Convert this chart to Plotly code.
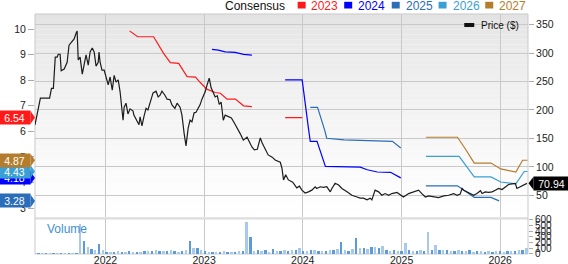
import plotly.graph_objects as go
import pandas as pd

# ---------------- data ----------------
price_dates = [
    "2021-04-15", "2021-05-05", "2021-06-08", "2021-06-15", "2021-06-22", "2021-06-29", "2021-07-06", "2021-07-10",
    "2021-07-17", "2021-07-21", "2021-08-01", "2021-08-12", "2021-08-19", "2021-08-27", "2021-09-07", "2021-09-14",
    "2021-09-18", "2021-09-22", "2021-09-29", "2021-10-07", "2021-10-18", "2021-10-21", "2021-10-29", "2021-11-05",
    "2021-11-13", "2021-11-20", "2021-11-27", "2021-12-05", "2021-12-08", "2021-12-12", "2021-12-19", "2021-12-27",
    "2021-12-30",
    "2022-01-07", "2022-01-11", "2022-01-18", "2022-01-26", "2022-02-02", "2022-02-09", "2022-02-17", "2022-02-24",
    "2022-03-07", "2022-03-11", "2022-03-18", "2022-03-25", "2022-04-02", "2022-04-13", "2022-04-16", "2022-04-27",
    "2022-05-05", "2022-05-09", "2022-05-16", "2022-05-23", "2022-05-31", "2022-06-07", "2022-06-15", "2022-06-26",
    "2022-07-07", "2022-07-15", "2022-07-22", "2022-07-29", "2022-08-09", "2022-08-17", "2022-08-28", "2022-09-04",
    "2022-09-15", "2022-09-23", "2022-10-04", "2022-10-11", "2022-10-19", "2022-10-26", "2022-11-03", "2022-11-10",
    "2022-11-17", "2022-11-25", "2022-12-02", "2022-12-10", "2022-12-17", "2022-12-24",
    "2023-01-05", "2023-01-12", "2023-01-20", "2023-01-27", "2023-02-04", "2023-02-11", "2023-02-19", "2023-02-26",
    "2023-03-05", "2023-03-09", "2023-03-13", "2023-03-20", "2023-03-31", "2023-04-12", "2023-04-23", "2023-05-04",
    "2023-05-15", "2023-05-26", "2023-06-09", "2023-06-27", "2023-07-06", "2023-07-17", "2023-07-28", "2023-08-04",
    "2023-08-15", "2023-08-26", "2023-09-10", "2023-09-21", "2023-10-10", "2023-10-16", "2023-10-22", "2023-10-30",
    "2023-11-09", "2023-11-25", "2023-12-10", "2023-12-20", "2023-12-29",
    "2024-01-10", "2024-01-22", "2024-02-04", "2024-02-16", "2024-02-22", "2024-03-06", "2024-03-18", "2024-03-30",
    "2024-04-12", "2024-04-18", "2024-04-30", "2024-05-13", "2024-05-25", "2024-06-13", "2024-07-01", "2024-07-20",
    "2024-08-01", "2024-08-13", "2024-08-26", "2024-09-07", "2024-09-13", "2024-09-25", "2024-10-08", "2024-10-20",
    "2024-11-01", "2024-11-14", "2024-11-26", "2024-12-15", "2024-12-27",
    "2025-01-08", "2025-01-27", "2025-02-14", "2025-03-05", "2025-03-17", "2025-03-30", "2025-04-11", "2025-04-30",
    "2025-05-18", "2025-06-06", "2025-06-24", "2025-07-13", "2025-07-25", "2025-08-06", "2025-08-13", "2025-08-19",
    "2025-08-31", "2025-09-13", "2025-09-25", "2025-10-07", "2025-10-20", "2025-10-26", "2025-11-07", "2025-11-19",
    "2025-12-02", "2025-12-14", "2025-12-26",
    "2026-01-08", "2026-01-20", "2026-02-01", "2026-02-14", "2026-02-26", "2026-03-04", "2026-03-17", "2026-03-29",
    "2026-04-10",
]
price_vals = [
    174, 221, 221, 238, 238, 293, 293, 298, 298, 269, 272, 284, 314, 319, 325, 335, 339, 288, 293, 263,
    288, 297, 279, 302, 309, 302, 277, 284, 302, 284, 270, 270, 265,
    247, 244, 258, 235, 261, 249, 253, 232, 182, 205, 212, 193, 202, 198, 191, 182, 174, 188, 172, 188,
    203, 200, 214, 230, 233, 223, 226, 233, 226, 219, 218, 209, 203, 212, 205, 191, 159, 137, 168, 182,
    179, 195, 196, 203, 209, 219,
    232, 244, 256, 239, 230, 223, 225, 210, 214, 200, 182, 191, 189, 186, 177, 168, 158, 147, 152, 135,
    130, 131, 151, 142, 130, 121, 117, 112, 108, 98, 77, 86, 77, 73, 63, 66, 59,
    54, 56, 59, 65, 62, 65, 64, 65, 56, 62, 71, 68, 62, 56, 50, 47, 45, 45, 42, 45, 42, 59, 56, 50,
    53, 50, 53, 55, 51,
    47, 53, 56, 59, 53, 47, 49, 47, 46, 49, 50, 53, 50, 52, 62, 59, 56, 53, 50, 53, 58, 53, 56, 55,
    56, 59, 62,
    60, 65, 69, 70, 71, 62, 65, 69, 70.94,
]

eps23_dates = ["2022-03-31", "2022-04-30", "2022-06-28", "2022-08-04", "2022-08-29", "2022-09-29", "2022-10-30",
               "2022-11-30", "2022-12-18", "2023-01-11", "2023-02-11", "2023-03-02", "2023-03-27", "2023-04-27",
               "2023-05-27", "2023-06-27", "2023-08-15", "2023-10-28", "2023-12-30"]
eps23_vals = [9.93, 9.70, 9.70, 9.05, 8.69, 8.66, 8.14, 8.12, 7.91, 7.65, 7.52, 7.49, 7.26, 7.26,
              7.00, 6.97, None, 6.54, 6.54]

eps24_dates = ["2023-01-30", "2023-02-23", "2023-03-20", "2023-04-26", "2023-05-27", "2023-06-27", "2023-08-15",
               "2023-10-28", "2023-12-30", "2024-01-23", "2024-01-29", "2024-02-23", "2024-03-25", "2024-08-01",
               "2024-08-27", "2024-10-03", "2024-11-21", "2024-12-29"]
eps24_vals = [9.21, 9.18, 9.11, 9.09, 9.01, 8.98, None, 8.01, 8.01, 6.06, 5.61, 5.61, 4.63, 4.60,
              4.50, 4.41, 4.40, 4.18]

eps25_dates = ["2024-01-29", "2024-02-25", "2024-03-22", "2024-03-30", "2024-06-02", "2024-10-03", "2024-11-28",
               "2024-12-29", "2025-02-15", "2025-04-01", "2025-07-27", "2025-09-27", "2025-11-28", "2025-12-28"]
eps25_vals = [6.94, 6.94, 6.06, 5.73, 5.67, 5.64, 5.61, 5.35, None, 3.87, 3.87, 3.42, 3.42, 3.28]

eps26_dates = ["2025-04-01", "2025-08-02", "2025-09-27", "2025-11-28", "2026-01-03", "2026-02-28", "2026-03-31",
               "2026-04-12"]
eps26_vals = [5.02, 5.02, 4.22, 4.22, 4.02, 3.95, 4.43, 4.43]

eps27_dates = ["2025-04-01", "2025-07-27", "2025-08-27", "2025-09-27", "2025-11-28", "2026-01-03", "2026-02-28",
               "2026-03-25", "2026-04-12"]
eps27_vals = [5.77, 5.77, 5.28, 4.76, 4.76, 4.53, 4.41, 4.87, 4.87]

volume_start = "2021-04-15"
volume_vals = [
    2, 2, 3, 2, 5, 3, 3, 5, 4, 5, 4, 5, 510, 220, 120, 80, 60, 160, 60, 30,
    25, 30, 45, 30, 35, 40, 25, 35, 30, 40, 45, 50, 55, 50, 45, 40, 60, 40, 30, 40,
    60, 215, 100, 90, 60, 40, 30, 25, 25, 30, 45, 30, 25, 30, 45, 40, 550, 290, 45, 55,
    40, 60, 35, 80, 50, 45, 60, 45, 70, 65, 90, 50, 45, 60, 55, 50, 45, 40, 60, 70,
    80, 200, 60, 50, 80, 270, 90, 100, 85, 110, 120, 100, 130, 60, 50, 55, 45, 50, 180, 60,
    50, 45, 60, 50, 380, 60, 150, 70, 60, 55, 45, 50, 60, 45, 40, 70, 35, 40, 45, 35,
    40, 35, 45, 40, 35, 40, 45, 50, 55, 60, 90,
]

year_ticks = ["2022-01-01", "2023-01-01", "2024-01-01", "2025-01-01", "2026-01-01"]
year_labels = ["2022", "2023", "2024", "2025", "2026"]
eps_ticks = [3, 4, 5, 6, 7, 8, 9, 10]
price_ticks = [50, 100, 150, 200, 250, 300, 350]
vol_ticks = [0, 100, 200, 300, 400, 500, 600]
x_range = ["2021-04-15", "2026-04-14"]

C23, C24, C25, C26, C27 = "#ff1a1a", "#0000ff", "#2a6db8", "#3a9fd3", "#b47d2c"
GRID = "#c9c9c9"
FONT = "Liberation Sans, Arial, sans-serif"

# ---------------- figure ----------------
fig = go.Figure()

series = [(eps23_dates, eps23_vals, C23), (eps24_dates, eps24_vals, C24), (eps25_dates, eps25_vals, C25),
          (eps26_dates, eps26_vals, C26), (eps27_dates, eps27_vals, C27)]
for d, v, c in series:
    fig.add_trace(go.Scatter(x=d, y=v, mode="lines", line=dict(color=c, width=1.2),
                             connectgaps=False, xaxis="x", yaxis="y", hoverinfo="skip"))

fig.add_trace(go.Scatter(x=price_dates, y=price_vals, mode="lines",
                         line=dict(color="#1c1c1c", width=1.2), xaxis="x", yaxis="y2", hoverinfo="skip"))

vol_dates = pd.date_range(volume_start, periods=len(volume_vals), freq="14D")
bar_colors = ["#a7c9ea" if i % 2 == 0 else "#5d9bd6" for i in range(len(volume_vals))]
fig.add_trace(go.Bar(x=vol_dates, y=volume_vals, marker=dict(color=bar_colors, line=dict(width=0)),
                     width=14 * 86400000 * 0.5, xaxis="x2", yaxis="y3", hoverinfo="skip"))

shapes = []
# background gradient of the main panel
main_bottom = 0.153
N = 40
for i in range(N):
    t = i / (N - 1)
    g = int(round(227 + 28 * t ** 0.75))
    y_top = 1 - (1 - main_bottom) * i / N
    y_bot = 1 - (1 - main_bottom) * (i + 1) / N
    shapes.append(dict(type="rect", xref="paper", yref="paper", x0=0, x1=1, y0=y_bot, y1=y_top,
                       fillcolor=f"rgb({g},{g},{g})", line=dict(width=0), layer="below"))
# separator band and frame
shapes.append(dict(type="rect", xref="paper", yref="paper", x0=0, x1=1, y0=0.1438, y1=main_bottom,
                   fillcolor="#dddddd", line=dict(width=0), layer="below"))
shapes.append(dict(type="rect", xref="paper", yref="paper", x0=0, x1=1, y0=0, y1=1,
                   fillcolor="rgba(0,0,0,0)", line=dict(color=GRID, width=1), layer="below"))

annotations = []
# top legend
annotations.append(dict(x=0.3816, y=1.0354, xref="paper", yref="paper", xanchor="left", yanchor="middle",
                        text="Consensus", showarrow=False, font=dict(size=12, color="#111", family=FONT)))
legend_items = [("2023", C23, 0.5328, 0.5567), ("2024", C24, 0.6272, 0.6509), ("2025", C25, 0.7236, 0.7489),
                ("2026", C26, 0.8186, 0.8437), ("2027", C27, 0.9133, 0.9371)]
for txt, c, sx, tx in legend_items:
    shapes.append(dict(type="rect", xref="paper", yref="paper", x0=sx, x1=sx + 0.0162, y0=1.0229, y1=1.0508,
                       fillcolor=c, line=dict(width=0)))
    annotations.append(dict(x=tx, y=1.0354, xref="paper", yref="paper", xanchor="left", yanchor="middle",
                            text=txt, showarrow=False, font=dict(size=12, color=c, family=FONT)))

# price legend inside plot
shapes.append(dict(type="rect", xref="paper", yref="paper", x0=0.8707, x1=0.891, y0=0.9458, y1=0.9625,
                   fillcolor="#111", line=dict(width=0)))
annotations.append(dict(x=0.9011, y=0.954, xref="paper", yref="paper", xanchor="left", yanchor="middle",
                        text="Price ($)", showarrow=False, font=dict(size=10, color="#111", family=FONT)))
# volume label
annotations.append(dict(x=0.0203, y=0.104, xref="paper", yref="paper", xanchor="left", yanchor="middle",
                        text="Volume", showarrow=False, font=dict(size=12, color="#3f8fd2", family=FONT)))

# left value labels (last consensus values)
left_labels = [(eps25_vals[-1], C25), (eps24_vals[-1], C24), (eps26_vals[-1], C26),
               (eps27_vals[-1], C27), (eps23_vals[-1], C23)]
for v, c in left_labels:
    shapes.append(dict(type="path", xref="paper", yref="y", xsizemode="pixel", ysizemode="pixel",
                       xanchor=0, yanchor=v, path="M-4.5,6.5 L0,0 L-4.5,-6.5 Z",
                       fillcolor=c, line=dict(width=0), layer="above"))
    annotations.append(dict(x=0, y=v, xref="paper", yref="y", xanchor="right", yanchor="middle", xshift=-4,
                            text=f"{v:.2f}", showarrow=False, bgcolor=c, width=29, height=11, borderpad=1,
                            font=dict(size=10.5, color="white", family=FONT)))

# right price label
last_price = price_vals[-1]
shapes.append(dict(type="path", xref="paper", yref="y2", xsizemode="pixel", ysizemode="pixel",
                   xanchor=1, yanchor=last_price, path="M0.5,0 L5.5,6.5 L5.5,-6.5 Z",
                   fillcolor="#000", line=dict(width=0), layer="above"))
annotations.append(dict(x=1, y=last_price, xref="paper", yref="y2", xanchor="left", yanchor="middle", xshift=5,
                        text=f"{last_price:.2f}", showarrow=False, bgcolor="#000", width=33, height=11,
                        borderpad=1, font=dict(size=10.5, color="white", family=FONT)))

fig.update_layout(
    width=568, height=264,
    margin=dict(l=35, r=40, t=14, b=10, autoexpand=False),
    paper_bgcolor="white", plot_bgcolor="white",
    font=dict(family=FONT, size=10.5, color="#222"),
    showlegend=False, bargap=0,
    xaxis=dict(type="date", range=x_range, domain=[0, 1], anchor="y", showticklabels=False,
               tickvals=year_ticks, showgrid=True, gridcolor=GRID, gridwidth=1, ticks="",
               zeroline=False, showline=False),
    xaxis2=dict(type="date", range=x_range, domain=[0, 1], anchor="y3", matches="x",
                tickvals=year_ticks, ticktext=year_labels, showgrid=True, gridcolor=GRID, gridwidth=1,
                ticks="", zeroline=False, showline=False, ticklabelstandoff=-2,
                tickfont=dict(size=10.5, color="#222")),
    yaxis=dict(domain=[main_bottom, 1], range=[2.64, 10.59], tickvals=eps_ticks, ticks="outside", ticklen=6,
               tickcolor="#aaaaaa", showgrid=False, zeroline=False, showline=False, anchor="x", side="left",
               tickfont=dict(size=10.5, color="#222")),
    yaxis2=dict(overlaying="y", side="right", range=[11.3, 368.8], tickvals=price_ticks, ticks="outside",
                ticklen=5, tickcolor="#aaaaaa", showgrid=True, gridcolor=GRID, gridwidth=1, zeroline=False,
                showline=False, anchor="x", tickfont=dict(size=10.5, color="#222")),
    yaxis3=dict(domain=[0, 0.1438], range=[0, 605], side="right", anchor="x2", tickvals=vol_ticks,
                ticks="outside", ticklen=4, tickcolor="#aaaaaa", showgrid=False, zeroline=False,
                showline=False, tickfont=dict(size=10, color="#222")),
    shapes=shapes, annotations=annotations,
)

fig.write_html("out.html")
